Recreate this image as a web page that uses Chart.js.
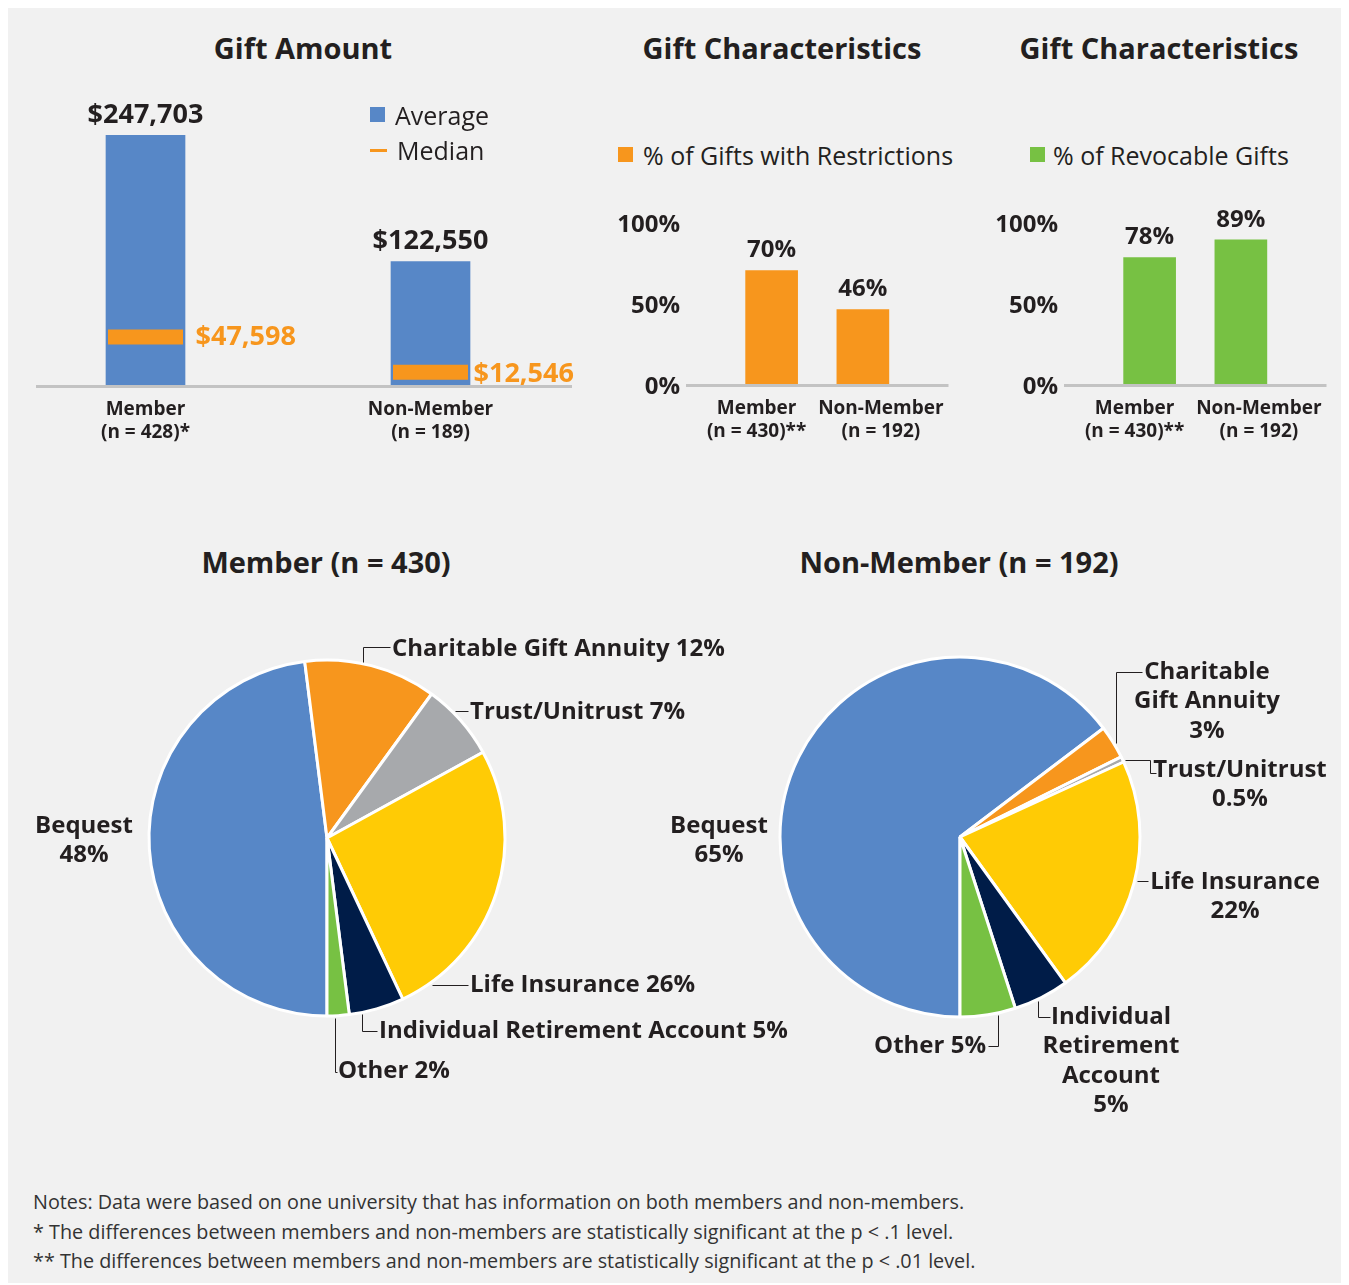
<!DOCTYPE html>
<html>
<head>
<meta charset="utf-8">
<script src="https://cdn.jsdelivr.net/npm/chart.js@4.4.1/dist/chart.umd.min.js"></script>
<style>
  body { margin: 0; background: #fff; font-family: "Open Sans", sans-serif; color: #231f20; }
  #page { position: relative; width: 1349px; height: 1285px; overflow: hidden; }
  #panel { position: absolute; left: 8px; top: 8px; width: 1333px; height: 1275px; background: #f1f1f1; }
  canvas { position: absolute; }
  .title { position: absolute; font-weight: 700; font-size: 29px; white-space: nowrap; transform: translate(-50%, -50%); }
  .leg { position: absolute; font-size: 25px; white-space: nowrap; transform: translateY(-50%); }
  .sw { position: absolute; }
  .notes { position: absolute; left: 33px; top: 1187px; font-size: 19.8px; line-height: 29.5px; color: #333; white-space: nowrap; }
</style>
</head>
<body>
<div id="page">
  <div id="panel"></div>

  <canvas id="amountChart" width="600" height="360" style="left:0;top:90px"></canvas>
  <canvas id="restrictChart" width="370" height="270" style="left:600px;top:180px"></canvas>
  <canvas id="revocChart" width="370" height="270" style="left:978px;top:180px"></canvas>
  <canvas id="memberPie" width="800" height="500" style="left:0;top:600px"></canvas>
  <canvas id="nonMemberPie" width="709" height="540" style="left:640px;top:600px"></canvas>

  <div class="title" style="left:303px;top:47px">Gift Amount</div>
  <div class="title" style="left:782px;top:47px">Gift Characteristics</div>
  <div class="title" style="left:1159px;top:47px">Gift Characteristics</div>
  <div class="title" style="left:326px;top:561px">Member (n = 430)</div>
  <div class="title" style="left:959px;top:561px">Non-Member (n = 192)</div>

  <div class="sw" style="left:370px;top:107px;width:15px;height:15px;background:#5787c7"></div>
  <div class="leg" style="left:395px;top:115px">Average</div>
  <div class="sw" style="left:370px;top:149px;width:17px;height:3px;background:#f7961d"></div>
  <div class="leg" style="left:397px;top:150px">Median</div>

  <div class="sw" style="left:618px;top:147px;width:15px;height:15px;background:#f7961d"></div>
  <div class="leg" style="left:643px;top:155px">% of Gifts with Restrictions</div>
  <div class="sw" style="left:1030px;top:147px;width:15px;height:15px;background:#77c143"></div>
  <div class="leg" style="left:1053px;top:155px">% of Revocable Gifts</div>

  <div class="notes">
    Notes: Data were based on one university that has information on both members and non-members.<br>
    * The differences between members and non-members are statistically significant at the p &lt; .1 level.<br>
    ** The differences between members and non-members are statistically significant at the p &lt; .01 level.
  </div>
</div>

<script>
// data
const groups = ['Member', 'Non-Member'];
const amountLabels = [['Member', '(n = 428)*'], ['Non-Member', '(n = 189)']];
const averageGift = [247703, 122550];
const medianGift = [47598, 12546];

const charLabels = [['Member', '(n = 430)**'], ['Non-Member', '(n = 192)']];
const restrictedPct = [70, 46];
const revocablePct = [78, 89];
const pctTicks = [0, 50, 100];

const giftTypes = ['Bequest', 'Charitable Gift Annuity', 'Trust/Unitrust', 'Life Insurance', 'Individual Retirement Account', 'Other'];
const memberShare = [48, 12, 7, 26, 5, 2];
const nonMemberShare = [65, 3, 0.5, 22, 5, 5];

// colours
const TEXT = '#231f20';
const BLUE = '#5787c7';
const ORANGE = '#f7961d';
const GREEN = '#77c143';
const AXIS = '#c3c3c3';
const sliceColors = ['#5787c7', '#f7961d', '#a7a9ac', '#ffcb05', '#001c48', '#77c143'];
const FONT = '"Open Sans", sans-serif';

Chart.defaults.font.family = FONT;
Chart.defaults.color = TEXT;

const money = v => '$' + v.toLocaleString('en-US');

// baseline, value labels, category labels for the bar charts
const barDecor = {
  id: 'barDecor',
  beforeDatasetsDraw(chart, args, o) {
    const { ctx, chartArea } = chart;
    ctx.save();
    ctx.strokeStyle = AXIS;
    ctx.lineWidth = 3;
    ctx.beginPath();
    ctx.moveTo(chartArea.left + o.lineFrom, chartArea.bottom + 1.5);
    ctx.lineTo(chartArea.right + o.lineTo, chartArea.bottom + 1.5);
    ctx.stroke();
    ctx.restore();
  },
  afterDatasetsDraw(chart, args, o) {
    const { ctx, chartArea } = chart;
    const bars = chart.getDatasetMeta(0).data;
    const vals = chart.data.datasets[0].data;
    ctx.save();
    ctx.textAlign = 'center';
    ctx.textBaseline = 'middle';
    bars.forEach((bar, i) => {
      ctx.fillStyle = TEXT;
      ctx.font = o.valueFont;
      ctx.fillText(o.fmt(vals[i]), bar.x, bar.y - o.valueGap);
      ctx.font = 'bold 19px ' + FONT;
      o.cats[i].forEach((line, j) => {
        ctx.fillText(line, bar.x + o.nudge[i], chartArea.bottom + 25 + j * 23);
      });
    });
    if (o.median) {
      const pts = chart.getDatasetMeta(1).data;
      const mv = chart.data.datasets[1].data;
      ctx.textAlign = 'left';
      ctx.fillStyle = ORANGE;
      ctx.font = o.valueFont;
      pts.forEach((p, i) => {
        ctx.fillText(o.fmt(mv[i]), p.x + o.median.dx[i], p.y + o.median.dy[i]);
      });
    }
    ctx.restore();
  }
};

const hiddenX = {
  grid: { display: false, drawTicks: false },
  border: { display: false },
  ticks: { display: false },
  afterFit: s => { s.height = 66; }
};

// Gift amount
new Chart(document.getElementById('amountChart'), {
  data: {
    labels: groups,
    datasets: [
      { type: 'bar', label: 'Average', data: averageGift, backgroundColor: BLUE, barThickness: 79, order: 2 },
      {
        type: 'line', label: 'Median', data: medianGift, showLine: false,
        pointStyle: 'line', pointRadius: 37.5, pointHoverRadius: 37.5,
        pointBorderWidth: 15, pointBorderColor: ORANGE, borderColor: ORANGE, order: 1
      }
    ]
  },
  options: {
    responsive: false,
    animation: false,
    events: [],
    layout: { autoPadding: false, padding: { top: 43, left: 3, right: 27, bottom: 0 } },
    plugins: {
      legend: { display: false },
      tooltip: { enabled: false },
      barDecor: {
        lineFrom: 33, lineTo: -1,
        fmt: money, valueFont: 'bold 27px ' + FONT, valueGap: 20,
        cats: amountLabels, nudge: [0, 0],
        median: { dx: [50, 43], dy: [0, 2] }
      }
    },
    scales: {
      x: { ...hiddenX, afterFit: s => { s.height = 65; } },
      y: { display: false, min: 0, max: 250000 }
    }
  },
  plugins: [barDecor]
});

function pctChart(id, values, color) {
  return new Chart(document.getElementById(id), {
    type: 'bar',
    data: {
      labels: groups,
      datasets: [{ data: values, backgroundColor: color, barThickness: 52 }]
    },
    options: {
      responsive: false,
      animation: false,
      events: [],
      layout: { autoPadding: false, padding: { top: 42, left: 0, right: 61.5, bottom: 0 } },
      plugins: {
        legend: { display: false },
        tooltip: { enabled: false },
        barDecor: {
          lineFrom: -40, lineTo: 40,
          fmt: v => v + '%', valueFont: 'bold 24px ' + FONT, valueGap: 20,
          cats: charLabels, nudge: [-15, 18]
        }
      },
      scales: {
        x: hiddenX,
        y: {
          min: 0, max: 100,
          grid: { display: false, drawTicks: true, tickLength: 46 },
          border: { display: false },
          afterBuildTicks: s => { s.ticks = pctTicks.map(v => ({ value: v })); },
          afterFit: s => { s.width = 126; },
          ticks: {
            padding: 0,
            labelOffset: 3,
            color: TEXT,
            font: { size: 24, weight: 'bold' },
            callback: v => v + '%'
          }
        }
      }
    },
    plugins: [barDecor]
  });
}

pctChart('restrictChart', restrictedPct, ORANGE);
pctChart('revocChart', revocablePct, GREEN);

// pie labels with leader lines
function labelLines(name, value, spec) {
  const words = name.split(' ');
  const lines = [];
  if (spec.split) {
    let k = 0;
    spec.split.forEach(n => { lines.push(words.slice(k, k + n).join(' ')); k += n; });
  } else {
    lines.push(name);
  }
  const v = value + '%';
  if (spec.own) lines.push(v); else lines[lines.length - 1] += ' ' + v;
  return lines;
}

const pieLabels = {
  id: 'pieLabels',
  afterDatasetsDraw(chart, args, o) {
    const { ctx } = chart;
    const arcs = chart.getDatasetMeta(0).data;
    const vals = chart.data.datasets[0].data;
    const names = chart.data.labels;
    ctx.save();
    ctx.font = 'bold 24px ' + FONT;
    ctx.fillStyle = TEXT;
    ctx.strokeStyle = TEXT;
    ctx.lineWidth = 1;
    ctx.textBaseline = 'middle';
    arcs.forEach((arc, i) => {
      const s = o.layout[i];
      if (s.leader) {
        const p = arc.getProps(['x', 'y', 'startAngle', 'endAngle', 'outerRadius'], true);
        const a = p.startAngle + (p.endAngle - p.startAngle) * s.leader.frac;
        const sx = Math.round(p.x + Math.cos(a) * (p.outerRadius + 2)) + 0.5;
        const sy = Math.round(p.y + Math.sin(a) * (p.outerRadius + 2)) + 0.5;
        const ax = s.leader.ax - o.left + 0.5, ay = s.leader.ay - o.top + 0.5;
        const pts = [[sx, sy]];
        if (s.leader.kind === 'vh') pts.push([sx, ay], [ax, ay]);
        else if (s.leader.kind === 'h') pts.push([ax, sy]);
        else if (s.leader.kind === 'hvh') {
          const mx = s.leader.mx - o.left + 0.5;
          pts.push([mx, sy], [mx, ay], [ax, ay]);
        }
        ctx.beginPath();
        pts.forEach(([x, y], k) => k ? ctx.lineTo(x, y) : ctx.moveTo(x, y));
        ctx.stroke();
      }
      ctx.textAlign = s.align;
      labelLines(names[i], vals[i], s).forEach((line, j) => {
        ctx.fillText(line, s.x - o.left, s.y - o.top + j * 29.5);
      });
    });
    ctx.restore();
  }
};

function pieChart(id, values, radius, padding, labelOpts) {
  return new Chart(document.getElementById(id), {
    type: 'pie',
    data: {
      labels: giftTypes,
      datasets: [{
        data: values,
        backgroundColor: sliceColors,
        borderColor: '#ffffff',
        borderWidth: 3,
        radius: radius
      }]
    },
    options: {
      responsive: false,
      animation: false,
      events: [],
      rotation: 180,
      layout: { padding: padding },
      plugins: {
        legend: { display: false },
        tooltip: { enabled: false },
        pieLabels: labelOpts
      }
    },
    plugins: [pieLabels]
  });
}

pieChart('memberPie', memberShare, 178, { right: 146, bottom: 24 }, {
  left: 0, top: 600,
  layout: [
    { x: 84, y: 826, align: 'center', own: true },
    { x: 392, y: 649, align: 'left', leader: { kind: 'vh', frac: 0.43, ax: 390, ay: 647 } },
    { x: 470, y: 712, align: 'left', leader: { kind: 'h', frac: 0.37, ax: 468, ay: 711 } },
    { x: 470, y: 985, align: 'left', leader: { kind: 'h', frac: 0.89, ax: 468, ay: 985 } },
    { x: 379, y: 1031, align: 'left', leader: { kind: 'vh', frac: 0.77, ax: 377, ay: 1031 } },
    { x: 338, y: 1071, align: 'left', leader: { kind: 'vh', frac: 0.65, ax: 337, ay: 1072 } }
  ]
});

pieChart('nonMemberPie', nonMemberShare, 180, { right: 69, bottom: 66 }, {
  left: 640, top: 600,
  layout: [
    { x: 719, y: 826, align: 'center', own: true },
    { x: 1207, y: 672, align: 'center', split: [1, 2], own: true, leader: { kind: 'vh', frac: 0.58, ax: 1142, ay: 672 } },
    { x: 1240, y: 770, align: 'center', own: true, leader: { kind: 'hvh', frac: 0.75, mx: 1150, ax: 1156, ay: 773 } },
    { x: 1235, y: 882, align: 'center', own: true, leader: { kind: 'h', frac: 0.49, ax: 1148, ay: 882 } },
    { x: 1111, y: 1017, align: 'center', split: [1, 1, 1], own: true, leader: { kind: 'vh', frac: 0.58, ax: 1050, ay: 1017 } },
    { x: 986, y: 1046, align: 'right', leader: { kind: 'vh', frac: 0.33, ax: 988, ay: 1046 } }
  ]
});
</script>
</body>
</html>
